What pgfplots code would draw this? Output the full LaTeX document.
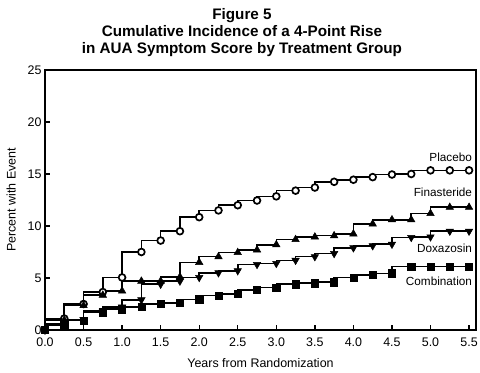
\documentclass[border=0pt]{standalone}
\usepackage{pgfplots}
\pgfplotsset{compat=1.18}
\usepackage{fontspec}
\setmainfont{Liberation Sans}
\begin{document}
\begin{tikzpicture}
\path[use as bounding box] (-45bp,-43bp) rectangle (435bp,330bp);
\begin{axis}[
  scale only axis,
  width=431bp, height=260bp,
  xmin=0, xmax=5.59, ymin=0, ymax=25,
  axis line style={line width=1.8bp},
  xtick={0,0.5,...,5.5},
  ytick={0,5,10,15,20,25},
  xtick pos=bottom, ytick pos=left,
  tick align=inside,
  major tick length=5bp,
  tick style={line width=1.4bp, black},
  /pgf/number format/assume math mode=true,
  x tick label style={/pgf/number format/.cd, fixed, fixed zerofill, precision=1, /tikz/.cd, yshift=-4bp},
  ticklabel style={font=\fontsize{12.5}{14}\selectfont},
  xlabel={Years from Randomization},
  ylabel={Percent with Event},
  label style={font=\fontsize{12.5}{14}\selectfont},
  xlabel shift=5bp,
  ylabel shift=5bp,
  every axis plot/.append style={black, line width=1.6bp, const plot mark right},
  clip=false,
]
% Placebo
\addplot[mark=*, mark size=3.4bp, mark options={fill=white, draw=black, line width=1.7bp}] coordinates {
(0,0)(0.25,1.1)(0.5,2.5)(0.75,3.65)(1.0,5.05)(1.25,7.5)(1.5,8.6)(1.75,9.5)(2.0,10.85)(2.25,11.5)(2.5,12.0)(2.75,12.45)(3.0,12.85)(3.25,13.4)(3.5,13.7)(3.75,14.25)(4.0,14.45)(4.25,14.7)(4.5,14.95)(4.75,15.0)(5.0,15.35)(5.25,15.35)(5.5,15.35)};
% Finasteride
\addplot[mark=triangle*, mark size=4.3bp, mark options={line width=0.5bp}] coordinates {
(0,0)(0.25,0.95)(0.5,2.35)(0.75,3.35)(1.0,3.75)(1.25,4.7)(1.5,4.7)(1.75,5.1)(2.0,6.5)(2.25,7.05)(2.5,7.45)(2.75,7.7)(3.0,8.2)(3.25,8.7)(3.5,8.95)(3.75,9.07)(4.0,9.24)(4.25,10.2)(4.5,10.6)(4.75,10.6)(5.0,11.2)(5.25,11.8)(5.5,11.8)};
% Doxazosin
\addplot[mark=triangle*, mark size=4.3bp, mark options={rotate=180, line width=0.5bp}] coordinates {
(0,0)(0.25,0.6)(0.5,1.0)(0.75,1.8)(1.0,2.2)(1.25,2.9)(1.5,4.4)(1.75,4.7)(2.0,5.05)(2.25,5.5)(2.5,5.7)(2.75,6.3)(3.0,6.4)(3.25,6.7)(3.5,7.05)(3.75,7.35)(4.0,7.9)(4.25,8.1)(4.5,8.25)(4.75,8.9)(5.0,8.95)(5.25,9.5)(5.5,9.5)};
% Combination
\addplot[mark=square*, mark size=3.6bp, mark options={line width=0.5bp}] coordinates {
(0,0)(0.25,0.45)(0.5,0.9)(0.75,1.7)(1.0,2.0)(1.25,2.2)(1.5,2.5)(1.75,2.6)(2.0,2.95)(2.25,3.3)(2.5,3.45)(2.75,3.85)(3.0,4.1)(3.25,4.4)(3.5,4.5)(3.75,4.6)(4.0,5.05)(4.25,5.3)(4.5,5.45)(4.75,6.1)(5.0,6.1)(5.25,6.1)(5.5,6.1)};
\begin{scope}[every node/.style={font=\fontsize{11.8}{13}\selectfont, anchor=east, inner sep=0pt}]
\node at (axis cs:5.54,16.6) {Placebo};
\node at (axis cs:5.54,13.2) {Finasteride};
\node at (axis cs:5.54,7.9) {Doxazosin};
\node at (axis cs:5.54,4.7) {Combination};
\end{scope}
\node[anchor=south, align=center, inner sep=0pt, font=\fontsize{15.3}{17}\selectfont\bfseries]
  at (rel axis cs:0.457,1) [yshift=13bp] {Figure 5\\Cumulative Incidence of a 4-Point Rise\\in AUA Symptom Score by Treatment Group};
\end{axis}
\end{tikzpicture}
\end{document}
